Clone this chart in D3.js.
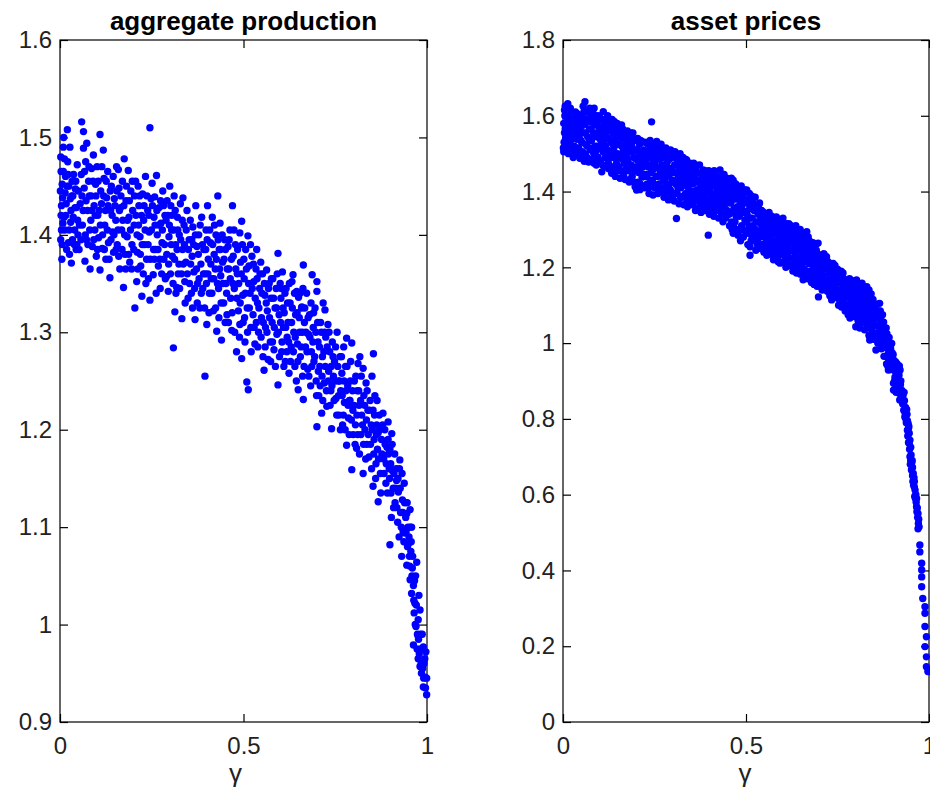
<!DOCTYPE html>
<html><head><meta charset="utf-8">
<script src="https://cdn.jsdelivr.net/npm/d3@7"></script>
<style>body{margin:0;background:#fff}svg{display:block}</style>
</head><body>
<svg id="chart" width="930" height="797"></svg>
<script>
// [gamma, aggregate production]
const production = [
[0.002,1.395],[0.004,1.43],[0.003,1.465],[0.006,1.452],[0.008,1.412],[0.01,1.5],[0.012,1.478],[0.014,1.443],[0.016,1.42],[0.018,1.385],[0.02,1.508],[0.022,1.462],[0.025,1.405],[0.028,1.437],[0.031,1.371],[0.033,1.455],[0.036,1.418],[0.039,1.39],[0.042,1.447],[0.045,1.428],[0.047,1.472],[0.049,1.4],
[0.001,1.445],[0.002,1.48],[0.005,1.375],[0.009,1.49],[0.015,1.46],[0.027,1.49],[0.004,1.405],[0.007,1.438],[0.011,1.418],[0.019,1.45],[0.023,1.392],[0.03,1.425],[0.035,1.44],[0.04,1.405],[0.044,1.385],[0.048,1.415],
[0.052,1.385],[0.055,1.432],[0.058,1.462],[0.059,1.516],[0.061,1.41],[0.064,1.506],[0.064,1.489],[0.066,1.448],[0.068,1.373],[0.07,1.475],[0.072,1.395],[0.073,1.494],[0.075,1.425],[0.078,1.455],[0.08,1.44],[0.082,1.365],[0.084,1.415],[0.086,1.468],[0.088,1.388],[0.091,1.482],[0.093,1.43],[0.095,1.405],[0.097,1.452],[0.099,1.378],
[0.101,1.47],[0.103,1.42],[0.105,1.397],[0.109,1.503],[0.109,1.364],[0.111,1.445],[0.113,1.432],[0.115,1.386],[0.118,1.487],[0.12,1.458],[0.122,1.41],[0.125,1.375],[0.127,1.438],[0.13,1.465],[0.132,1.392],[0.136,1.356],[0.138,1.425],[0.14,1.45],[0.143,1.403],[0.146,1.382],[0.148,1.437],
[0.152,1.415],[0.154,1.47],[0.156,1.39],[0.159,1.467],[0.161,1.448],[0.163,1.365],[0.165,1.428],[0.168,1.405],[0.17,1.455],[0.173,1.346],[0.175,1.478],[0.177,1.38],[0.18,1.435],[0.183,1.398],[0.186,1.466],[0.188,1.418],[0.19,1.372],[0.193,1.445],[0.196,1.39],[0.198,1.425],
[0.202,1.41],[0.204,1.325],[0.206,1.455],[0.209,1.352],[0.211,1.382],[0.213,1.45],[0.215,1.43],[0.218,1.398],[0.22,1.368],[0.223,1.337],[0.225,1.442],[0.228,1.415],[0.23,1.39],[0.233,1.46],[0.236,1.375],[0.239,1.425],[0.241,1.355],[0.243,1.403],[0.245,1.51],[0.245,1.333],[0.248,1.437],
[0.251,1.453],[0.254,1.359],[0.256,1.418],[0.258,1.439],[0.26,1.385],[0.263,1.461],[0.265,1.4],[0.268,1.368],[0.27,1.428],[0.273,1.345],[0.275,1.412],[0.278,1.392],[0.28,1.445],[0.283,1.375],[0.286,1.42],[0.29,1.357],[0.292,1.435],[0.295,1.342],[0.297,1.398],[0.299,1.45],
[0.302,1.43],[0.304,1.405],[0.306,1.378],[0.309,1.284],[0.311,1.44],[0.313,1.321],[0.315,1.39],[0.318,1.346],[0.32,1.418],[0.322,1.36],[0.325,1.4],[0.328,1.432],[0.332,1.314],[0.334,1.385],[0.335,1.438],[0.338,1.41],[0.34,1.352],[0.343,1.372],[0.346,1.425],[0.349,1.335],
[0.352,1.395],[0.355,1.415],[0.358,1.34],[0.36,1.378],[0.362,1.408],[0.365,1.362],[0.368,1.313],[0.37,1.43],[0.373,1.388],[0.375,1.35],[0.378,1.4],[0.381,1.325],[0.384,1.37],[0.386,1.418],[0.389,1.345],[0.392,1.385],[0.395,1.255],[0.396,1.36],[0.398,1.405],[0.4,1.308],
[0.402,1.43],[0.404,1.375],[0.407,1.34],[0.41,1.392],[0.412,1.355],[0.415,1.418],[0.418,1.322],[0.42,1.38],[0.423,1.365],[0.425,1.4],[0.427,1.301],[0.43,1.44],[0.432,1.345],[0.434,1.385],[0.436,1.412],[0.438,1.358],[0.44,1.292],[0.443,1.372],[0.446,1.33],[0.449,1.395],
[0.452,1.35],[0.455,1.318],[0.458,1.388],[0.46,1.365],[0.463,1.405],[0.465,1.335],[0.468,1.302],[0.47,1.43],[0.472,1.378],[0.475,1.345],[0.478,1.39],[0.481,1.28],[0.483,1.36],[0.486,1.322],[0.49,1.308],[0.49,1.402],[0.492,1.372],[0.495,1.273],[0.495,1.414],[0.498,1.338],
[0.502,1.355],[0.504,1.29],[0.506,1.385],[0.509,1.249],[0.51,1.325],[0.512,1.399],[0.513,1.241],[0.515,1.368],[0.518,1.34],[0.52,1.305],[0.523,1.378],[0.526,1.318],[0.528,1.352],[0.531,1.288],[0.534,1.365],[0.536,1.385],[0.538,1.33],[0.541,1.3],[0.544,1.345],[0.547,1.372],[0.549,1.315],
[0.552,1.36],[0.553,1.275],[0.556,1.261],[0.558,1.338],[0.56,1.305],[0.563,1.364],[0.565,1.322],[0.567,1.272],[0.57,1.35],[0.573,1.29],[0.575,1.335],[0.578,1.31],[0.58,1.355],[0.583,1.282],[0.586,1.325],[0.589,1.345],[0.591,1.298],[0.594,1.246],[0.594,1.381],[0.597,1.318],[0.6,1.35],
[0.602,1.335],[0.604,1.28],[0.606,1.362],[0.609,1.305],[0.611,1.32],[0.614,1.27],[0.616,1.345],[0.619,1.295],[0.621,1.31],[0.624,1.258],[0.627,1.33],[0.63,1.285],[0.632,1.352],[0.635,1.359],[0.637,1.3],[0.64,1.265],[0.642,1.318],[0.645,1.342],[0.647,1.288],[0.649,1.241],[0.65,1.336],
[0.653,1.3],[0.655,1.275],[0.658,1.325],[0.659,1.326],[0.661,1.255],[0.663,1.369],[0.663,1.231],[0.666,1.31],[0.669,1.285],[0.672,1.34],[0.675,1.262],[0.677,1.298],[0.68,1.318],[0.683,1.245],[0.685,1.28],[0.687,1.359],[0.69,1.305],[0.692,1.27],[0.695,1.325],[0.698,1.25],[0.7,1.352],[0.7,1.342],[0.7,1.203],
[0.703,1.29],[0.705,1.235],[0.708,1.265],[0.71,1.31],[0.713,1.217],[0.715,1.275],[0.717,1.33],[0.72,1.248],[0.722,1.323],[0.724,1.295],[0.727,1.224],[0.73,1.308],[0.732,1.26],[0.735,1.28],[0.738,1.24],[0.74,1.201],[0.742,1.29],[0.745,1.255],[0.748,1.27],
[0.752,1.232],[0.755,1.3],[0.758,1.25],[0.76,1.215],[0.763,1.275],[0.765,1.24],[0.768,1.258],[0.77,1.205],[0.773,1.285],[0.775,1.228],[0.778,1.265],[0.781,1.294],[0.781,1.184],[0.784,1.245],[0.786,1.212],[0.789,1.23],[0.79,1.23],[0.792,1.27],[0.795,1.289],[0.795,1.159],[0.798,1.22],
[0.802,1.25],[0.805,1.205],[0.808,1.181],[0.81,1.24],[0.812,1.268],[0.815,1.225],[0.817,1.275],[0.82,1.195],[0.822,1.215],[0.826,1.263],[0.826,1.155],[0.828,1.235],[0.831,1.2],[0.834,1.248],[0.836,1.185],[0.839,1.22],[0.842,1.172],[0.845,1.23],[0.848,1.205],[0.85,1.255],
[0.853,1.142],[0.854,1.278],[0.853,1.22],[0.856,1.19],[0.858,1.235],[0.861,1.165],[0.863,1.205],[0.865,1.18],[0.867,1.197],[0.867,1.126],[0.87,1.215],[0.873,1.155],[0.876,1.19],[0.88,1.217],[0.882,1.17],[0.885,1.2],[0.888,1.145],[0.891,1.182],[0.894,1.208],[0.894,1.19],[0.897,1.16],[0.899,1.082],[0.899,1.18],
[0.902,1.135],[0.904,1.196],[0.906,1.158],[0.909,1.12],[0.912,1.175],[0.915,1.14],[0.917,1.148],[0.92,1.105],[0.922,1.136],[0.925,1.16],[0.926,1.169],[0.928,1.115],[0.931,1.07],[0.933,1.128],[0.935,1.095],[0.938,1.145],[0.94,1.094],[0.942,1.11],[0.945,1.114],[0.945,1.061],[0.947,1.08],[0.949,1.083],
[0.952,1.07],[0.954,1.118],[0.954,1.1],[0.954,1.046],[0.957,1.085],[0.958,1.1],[0.958,1.032],[0.96,1.058],[0.963,1.04],[0.963,0.979],[0.965,1.012],[0.967,1.022],[0.969,1.05],[0.97,0.998],[0.972,1.064],[0.974,0.99],[0.976,1.005],[0.976,0.988],[0.976,0.965],[0.978,1.03],[0.981,1.015],[0.981,0.957],[0.983,0.975],[0.985,0.95],[0.987,0.99],[0.99,0.977],[0.99,0.936],[0.992,0.96],[0.995,0.946],[0.997,0.972],[0.999,0.928],[0.999,0.945],
[0.003,1.42],[0.006,1.39],[0.009,1.465],[0.013,1.405],[0.017,1.432],[0.021,1.475],[0.024,1.45],[0.026,1.38],[0.029,1.413],[0.032,1.44],[0.034,1.395],[0.037,1.462],[0.041,1.428],[0.043,1.455],[0.046,1.39],[0.05,1.445],[0.053,1.41],[0.057,1.395],[0.06,1.44],[0.063,1.425],[0.067,1.465],[0.069,1.4],[0.071,1.435],[0.076,1.39],[0.079,1.47],[0.081,1.405],[0.085,1.44],[0.087,1.425],[0.09,1.455],[0.092,1.395],[0.096,1.42],[0.098,1.44],
[0.102,1.385],[0.104,1.455],[0.107,1.425],[0.11,1.41],[0.114,1.47],[0.116,1.4],[0.119,1.44],[0.121,1.385],[0.124,1.425],[0.126,1.455],[0.129,1.405],[0.131,1.43],[0.134,1.375],[0.137,1.445],[0.139,1.395],[0.142,1.42],[0.145,1.46],[0.147,1.4],[0.15,1.43],[0.153,1.385],[0.155,1.445],[0.158,1.405],[0.16,1.378],[0.162,1.425],[0.166,1.44],[0.169,1.385],[0.171,1.415],[0.174,1.43],[0.176,1.4],[0.179,1.365],[0.181,1.45],[0.184,1.415],[0.187,1.38],[0.189,1.435],[0.192,1.405],[0.195,1.365],[0.197,1.455],
[0.201,1.385],[0.203,1.44],[0.207,1.42],[0.21,1.4],[0.212,1.365],[0.214,1.41],[0.217,1.44],[0.219,1.38],[0.222,1.42],[0.224,1.39],[0.227,1.36],[0.229,1.43],[0.232,1.405],[0.234,1.35],[0.237,1.44],[0.24,1.39],[0.242,1.42],[0.246,1.375],[0.249,1.405],[0.252,1.43],[0.255,1.385],[0.257,1.375],[0.259,1.41],[0.262,1.34],[0.264,1.425],[0.267,1.385],[0.269,1.41],[0.272,1.375],[0.274,1.435],[0.277,1.36],[0.279,1.405],[0.282,1.43],[0.285,1.39],[0.287,1.355],[0.289,1.415],[0.291,1.38],[0.294,1.42],[0.296,1.37],[0.298,1.41],
[0.301,1.36],[0.303,1.39],[0.305,1.42],[0.308,1.35],[0.31,1.405],[0.312,1.375],[0.314,1.425],[0.316,1.34],[0.319,1.385],[0.321,1.405],[0.324,1.37],[0.326,1.345],[0.329,1.395],[0.331,1.36],[0.333,1.415],[0.336,1.37],[0.339,1.39],[0.341,1.33],[0.344,1.405],[0.347,1.36],[0.35,1.385],[0.353,1.35],[0.356,1.37],[0.359,1.395],[0.361,1.325],[0.364,1.39],[0.367,1.345],[0.369,1.4],[0.372,1.365],[0.374,1.33],[0.377,1.38],[0.379,1.355],[0.382,1.41],[0.385,1.34],[0.388,1.39],[0.391,1.36],[0.394,1.325],[0.397,1.385],[0.399,1.35],
[0.401,1.395],[0.403,1.36],[0.406,1.32],[0.408,1.405],[0.411,1.37],[0.414,1.34],[0.416,1.39],[0.419,1.355],[0.421,1.41],[0.424,1.325],[0.426,1.375],[0.429,1.35],[0.431,1.395],[0.433,1.315],[0.435,1.365],[0.437,1.385],[0.439,1.33],[0.442,1.4],[0.444,1.35],[0.447,1.375],[0.45,1.31],[0.451,1.385],[0.454,1.34],[0.456,1.365],[0.459,1.31],[0.461,1.395],[0.464,1.355],[0.467,1.375],[0.469,1.32],[0.471,1.35],[0.474,1.405],[0.476,1.3],[0.479,1.365],[0.482,1.335],[0.484,1.385],[0.487,1.35],[0.489,1.295],[0.491,1.33],[0.494,1.36],[0.497,1.39],[0.499,1.31],
[0.501,1.375],[0.503,1.315],[0.505,1.34],[0.508,1.365],[0.511,1.3],[0.514,1.35],[0.516,1.325],[0.519,1.39],[0.521,1.28],[0.524,1.345],[0.527,1.37],[0.529,1.305],[0.532,1.335],[0.535,1.31],[0.537,1.355],[0.539,1.285],[0.542,1.325],[0.545,1.36],[0.548,1.295],[0.55,1.34],[0.554,1.31],[0.557,1.35],[0.559,1.285],[0.562,1.33],[0.564,1.3],[0.568,1.345],[0.571,1.315],[0.574,1.27],[0.576,1.355],[0.579,1.29],[0.582,1.335],[0.584,1.305],[0.587,1.265],[0.59,1.325],[0.592,1.36],[0.595,1.3],[0.598,1.275],
[0.601,1.31],[0.603,1.345],[0.605,1.29],[0.608,1.325],[0.61,1.265],[0.613,1.34],[0.615,1.305],[0.618,1.28],[0.62,1.33],[0.623,1.29],[0.625,1.35],[0.628,1.27],[0.631,1.31],[0.633,1.325],[0.636,1.28],[0.639,1.34],[0.641,1.295],[0.644,1.25],[0.646,1.32],[0.648,1.27],[0.652,1.315],[0.654,1.34],[0.657,1.285],[0.66,1.3],[0.662,1.345],[0.665,1.265],[0.667,1.325],[0.67,1.3],[0.673,1.28],[0.676,1.315],[0.678,1.255],[0.681,1.295],[0.684,1.33],[0.686,1.265],[0.689,1.29],[0.691,1.32],[0.694,1.275],[0.697,1.3],[0.699,1.235],
[0.702,1.31],[0.704,1.26],[0.707,1.285],[0.709,1.245],[0.712,1.3],[0.714,1.255],[0.716,1.23],[0.719,1.28],[0.721,1.3],[0.723,1.265],[0.726,1.24],[0.728,1.285],[0.731,1.25],[0.733,1.3],[0.736,1.225],[0.739,1.265],[0.741,1.245],[0.744,1.275],[0.747,1.23],[0.749,1.25],[0.751,1.285],[0.754,1.215],[0.757,1.265],[0.759,1.235],[0.762,1.25],[0.764,1.2],[0.767,1.275],[0.769,1.235],[0.772,1.215],[0.774,1.25],[0.777,1.2],[0.779,1.24],[0.782,1.265],[0.785,1.225],[0.788,1.195],[0.791,1.25],[0.794,1.21],[0.797,1.24],[0.799,1.195],
[0.801,1.225],[0.804,1.185],[0.806,1.255],[0.809,1.215],[0.811,1.195],[0.814,1.24],[0.816,1.175],[0.819,1.23],[0.821,1.255],[0.824,1.205],[0.827,1.185],[0.83,1.225],[0.833,1.17],[0.835,1.21],[0.837,1.24],[0.84,1.195],[0.843,1.22],[0.846,1.185],[0.849,1.16],[0.851,1.2],[0.855,1.175],[0.857,1.215],[0.86,1.15],[0.862,1.195],[0.864,1.23],[0.868,1.17],[0.871,1.2],[0.874,1.135],[0.877,1.175],[0.879,1.205],[0.883,1.155],[0.886,1.185],[0.889,1.165],[0.892,1.135],[0.895,1.175],[0.898,1.15],
[0.901,1.165],[0.903,1.11],[0.905,1.185],[0.908,1.14],[0.91,1.155],[0.913,1.125],[0.916,1.16],[0.918,1.12],[0.921,1.15],[0.924,1.09],[0.927,1.14],[0.93,1.1],[0.932,1.155],[0.934,1.115],[0.937,1.085],[0.939,1.125],[0.943,1.095],[0.946,1.125],[0.948,1.1],[0.951,1.09],[0.953,1.06],[0.956,1.075],[0.959,1.05],[0.961,1.07],[0.964,1.025],[0.966,1.045],[0.968,1.0],[0.971,1.02],[0.973,0.975],[0.977,0.985],[0.979,0.97],[0.982,0.99],[0.984,0.96],[0.988,0.955],[0.991,0.945],[0.994,0.965],[0.996,0.935]
];

// [gamma, asset price]
const assetPrices = [
[0.002,1.505],[0.003,1.53],[0.004,1.555],[0.002,1.58],[0.005,1.6],[0.006,1.625],[0.008,1.515],[0.009,1.545],[0.01,1.57],[0.012,1.59],[0.013,1.632],[0.015,1.5],[0.016,1.525],[0.018,1.56],[0.019,1.585],[0.021,1.535],[0.022,1.612],[0.024,1.505],[0.024,1.57],
[0.027,1.548],[0.028,1.49],[0.03,1.595],[0.031,1.52],[0.033,1.565],[0.035,1.5],[0.036,1.58],[0.038,1.538],[0.04,1.605],[0.041,1.555],[0.043,1.515],[0.045,1.59],[0.046,1.488],[0.048,1.57],[0.049,1.535],
[0.052,1.6],[0.053,1.505],[0.055,1.625],[0.056,1.555],[0.058,1.48],[0.06,1.637],[0.06,1.578],[0.062,1.525],[0.064,1.61],[0.065,1.49],[0.067,1.545],[0.069,1.59],[0.07,1.478],[0.072,1.565],[0.073,1.62],[0.074,1.51],
[0.076,1.595],[0.078,1.535],[0.079,1.485],[0.081,1.61],[0.083,1.555],[0.084,1.5],[0.086,1.578],[0.088,1.52],[0.09,1.6],[0.091,1.47],[0.093,1.545],[0.095,1.585],[0.096,1.49],[0.098,1.56],[0.099,1.515],
[0.101,1.595],[0.103,1.48],[0.104,1.535],[0.106,1.452],[0.107,1.57],[0.109,1.505],[0.11,1.611],[0.112,1.55],[0.114,1.465],[0.115,1.585],[0.117,1.52],[0.119,1.495],[0.12,1.56],[0.122,1.6],[0.124,1.475],[0.124,1.54],
[0.126,1.505],[0.128,1.575],[0.129,1.46],[0.131,1.53],[0.133,1.448],[0.134,1.59],[0.136,1.555],[0.138,1.49],[0.139,1.515],[0.141,1.57],[0.143,1.44],[0.144,1.54],[0.146,1.475],[0.148,1.58],[0.149,1.5],
[0.151,1.555],[0.153,1.465],[0.154,1.525],[0.156,1.435],[0.158,1.565],[0.159,1.495],[0.16,1.576],[0.162,1.54],[0.164,1.45],[0.165,1.51],[0.167,1.475],[0.169,1.55],[0.17,1.432],[0.172,1.525],[0.174,1.49],
[0.176,1.56],[0.178,1.455],[0.179,1.535],[0.181,1.425],[0.183,1.505],[0.184,1.548],[0.186,1.47],[0.188,1.52],[0.189,1.44],[0.191,1.555],[0.193,1.49],[0.194,1.425],[0.196,1.535],[0.197,1.413],[0.199,1.465],
[0.201,1.404],[0.202,1.51],[0.204,1.54],[0.206,1.45],[0.207,1.48],[0.209,1.525],[0.211,1.42],[0.213,1.495],[0.215,1.532],[0.216,1.438],[0.218,1.465],[0.22,1.51],[0.222,1.41],[0.223,1.53],[0.225,1.475],
[0.227,1.445],[0.228,1.5],[0.23,1.42],[0.232,1.525],[0.233,1.465],[0.235,1.395],[0.237,1.49],[0.238,1.535],[0.24,1.43],[0.242,1.584],[0.242,1.51],[0.244,1.455],[0.246,1.391],[0.247,1.48],[0.249,1.525],[0.25,1.41],
[0.252,1.5],[0.254,1.44],[0.256,1.532],[0.257,1.465],[0.259,1.395],[0.261,1.515],[0.262,1.42],[0.264,1.485],[0.266,1.45],[0.268,1.525],[0.269,1.4],[0.271,1.47],[0.273,1.505],[0.274,1.43],
[0.276,1.385],[0.278,1.495],[0.279,1.455],[0.281,1.515],[0.283,1.415],[0.284,1.475],[0.286,1.5],[0.288,1.378],[0.289,1.44],[0.291,1.485],[0.293,1.405],[0.294,1.51],[0.296,1.46],[0.298,1.39],[0.299,1.43],
[0.301,1.495],[0.303,1.45],[0.304,1.375],[0.306,1.505],[0.308,1.42],[0.31,1.329],[0.31,1.47],[0.312,1.395],[0.313,1.49],[0.315,1.44],[0.317,1.368],[0.318,1.46],[0.32,1.5],[0.322,1.41],[0.323,1.48],[0.325,1.385],
[0.327,1.45],[0.328,1.49],[0.33,1.365],[0.332,1.425],[0.333,1.47],[0.335,1.395],[0.337,1.44],[0.338,1.483],[0.34,1.36],[0.342,1.41],[0.343,1.46],[0.345,1.38],[0.347,1.475],[0.348,1.43],[0.35,1.4],
[0.352,1.455],[0.353,1.365],[0.355,1.42],[0.357,1.475],[0.358,1.385],[0.36,1.44],[0.362,1.35],[0.363,1.465],[0.365,1.356],[0.367,1.405],[0.368,1.45],[0.37,1.375],[0.372,1.43],[0.373,1.47],[0.375,1.395],
[0.377,1.345],[0.378,1.45],[0.38,1.415],[0.382,1.37],[0.383,1.457],[0.385,1.39],[0.387,1.435],[0.388,1.35],[0.39,1.405],[0.392,1.445],[0.393,1.365],[0.395,1.42],[0.397,1.285],[0.397,1.38],[0.398,1.455],[0.4,1.34],
[0.402,1.43],[0.403,1.395],[0.405,1.355],[0.407,1.445],[0.408,1.375],[0.41,1.415],[0.412,1.335],[0.413,1.455],[0.415,1.385],[0.417,1.425],[0.418,1.35],[0.42,1.4],[0.422,1.44],[0.423,1.365],[0.425,1.33],
[0.427,1.415],[0.429,1.457],[0.43,1.375],[0.432,1.43],[0.433,1.34],[0.435,1.395],[0.437,1.32],[0.438,1.445],[0.44,1.36],[0.442,1.41],[0.443,1.385],[0.445,1.33],[0.447,1.435],[0.448,1.35],[0.45,1.4],
[0.452,1.425],[0.453,1.37],[0.455,1.31],[0.457,1.395],[0.458,1.345],[0.46,1.435],[0.462,1.3],[0.463,1.41],[0.465,1.29],[0.465,1.43],[0.467,1.355],[0.468,1.38],[0.47,1.32],[0.472,1.42],[0.473,1.335],[0.475,1.395],
[0.477,1.36],[0.478,1.285],[0.48,1.405],[0.482,1.335],[0.483,1.375],[0.485,1.27],[0.487,1.415],[0.488,1.31],[0.49,1.39],[0.492,1.35],[0.493,1.28],[0.495,1.405],[0.497,1.325],[0.498,1.37],[0.5,1.295],
[0.502,1.404],[0.503,1.34],[0.505,1.26],[0.507,1.38],[0.508,1.31],[0.51,1.355],[0.511,1.254],[0.511,1.232],[0.513,1.39],[0.515,1.285],[0.517,1.33],[0.518,1.37],[0.52,1.27],[0.522,1.35],[0.523,1.3],[0.525,1.385],
[0.527,1.245],[0.528,1.32],[0.53,1.36],[0.532,1.275],[0.533,1.34],[0.535,1.295],[0.537,1.37],[0.538,1.25],[0.54,1.315],[0.542,1.35],[0.543,1.26],[0.545,1.33],[0.546,1.347],[0.547,1.285],[0.549,1.24],
[0.551,1.305],[0.553,1.34],[0.555,1.27],[0.557,1.232],[0.558,1.32],[0.56,1.25],[0.562,1.295],[0.563,1.345],[0.565,1.235],[0.567,1.31],[0.568,1.275],[0.57,1.335],[0.572,1.255],[0.573,1.29],[0.575,1.22],
[0.577,1.32],[0.578,1.265],[0.58,1.23],[0.582,1.3],[0.583,1.333],[0.585,1.245],[0.587,1.28],[0.588,1.215],[0.59,1.31],[0.592,1.255],[0.593,1.211],[0.595,1.29],[0.597,1.325],[0.598,1.235],[0.6,1.27],
[0.601,1.33],[0.603,1.215],[0.604,1.3],[0.606,1.25],[0.608,1.315],[0.609,1.2],[0.611,1.275],[0.613,1.235],[0.614,1.305],[0.616,1.26],[0.618,1.205],[0.619,1.29],[0.621,1.225],[0.623,1.31],[0.624,1.245],
[0.626,1.28],[0.628,1.19],[0.629,1.3],[0.631,1.215],[0.633,1.265],[0.634,1.235],[0.636,1.31],[0.638,1.185],[0.639,1.25],[0.641,1.29],[0.643,1.2],[0.644,1.275],[0.646,1.225],[0.648,1.3],[0.649,1.182],
[0.651,1.26],[0.653,1.21],[0.654,1.285],[0.656,1.167],[0.658,1.24],[0.659,1.195],[0.661,1.275],[0.663,1.18],[0.664,1.225],[0.666,1.294],[0.668,1.255],[0.669,1.17],[0.671,1.21],[0.673,1.27],[0.674,1.24],
[0.676,1.19],[0.678,1.255],[0.679,1.16],[0.681,1.225],[0.683,1.265],[0.684,1.2],[0.686,1.155],[0.688,1.24],[0.689,1.18],[0.691,1.26],[0.693,1.215],[0.694,1.15],[0.696,1.235],[0.697,1.264],[0.698,1.122],[0.699,1.175],
[0.701,1.205],[0.703,1.15],[0.704,1.23],[0.706,1.185],[0.708,1.14],[0.709,1.215],[0.711,1.165],[0.713,1.235],[0.714,1.195],[0.716,1.145],[0.718,1.22],[0.72,1.228],[0.72,1.17],[0.722,1.137],[0.724,1.2],
[0.726,1.16],[0.728,1.21],[0.729,1.125],[0.731,1.185],[0.733,1.14],[0.734,1.114],[0.736,1.2],[0.738,1.155],[0.739,1.175],[0.741,1.13],[0.743,1.205],[0.744,1.145],[0.746,1.19],[0.748,1.12],[0.749,1.165],
[0.751,1.18],[0.753,1.1],[0.754,1.14],[0.756,1.188],[0.757,1.12],[0.759,1.16],[0.761,1.095],[0.762,1.175],[0.764,1.135],[0.766,1.105],[0.767,1.17],[0.769,1.15],[0.771,1.085],[0.772,1.125],[0.774,1.165],
[0.776,1.1],[0.778,1.16],[0.779,1.075],[0.781,1.135],[0.783,1.17],[0.784,1.066],[0.786,1.115],[0.788,1.15],[0.789,1.09],[0.791,1.165],[0.793,1.125],[0.794,1.07],[0.796,1.105],[0.798,1.145],[0.8,1.043],
[0.801,1.085],[0.802,1.167],[0.804,1.13],[0.806,1.06],[0.807,1.15],[0.809,1.1],[0.811,1.04],[0.812,1.14],[0.814,1.075],[0.816,1.12],[0.817,1.158],[0.819,1.055],[0.821,1.095],[0.822,1.135],[0.824,1.035],
[0.826,1.11],[0.828,1.07],[0.83,1.149],[0.831,1.045],[0.833,1.125],[0.835,1.09],[0.836,1.02],[0.838,1.008],[0.838,1.105],[0.84,1.06],[0.842,1.13],[0.843,1.035],[0.845,1.08],[0.847,1.115],[0.848,1.01],[0.85,1.05],
[0.852,1.095],[0.853,1.025],[0.855,0.982],[0.856,1.07],[0.858,1.103],[0.86,1.0],[0.861,1.045],[0.863,1.085],[0.865,1.105],[0.866,1.015],[0.868,1.06],[0.87,0.985],[0.871,1.03],[0.873,1.075],[0.875,1.0],
[0.876,1.055],[0.877,0.965],[0.879,1.02],[0.881,0.99],[0.883,1.04],[0.884,0.945],[0.886,1.005],[0.888,0.97],[0.889,0.929],[0.891,1.015],[0.893,0.95],[0.895,0.985],[0.897,0.93],[0.898,0.999],[0.9,0.955],
[0.902,0.97],[0.903,0.894],[0.903,0.876],[0.905,0.935],[0.907,0.91],[0.909,0.95],[0.91,0.87],[0.912,0.885],[0.914,0.93],[0.915,0.905],[0.917,0.868],[0.919,0.94],[0.92,0.85],[0.921,0.929],[0.922,0.89],[0.924,0.855],
[0.926,0.875],[0.928,0.84],[0.929,0.862],[0.931,0.823],[0.933,0.848],[0.934,0.805],[0.936,0.83],[0.938,0.79],[0.94,0.812],[0.941,0.77],[0.943,0.788],[0.942,0.755],[0.944,0.738],[0.946,0.762],[0.947,0.72],[0.948,0.744],[0.948,0.7],[0.949,0.68],[0.951,0.705],[0.952,0.665],[0.955,0.672],[0.957,0.656],[0.956,0.635],[0.959,0.645],[0.96,0.62],[0.962,0.612],[0.961,0.595],[0.964,0.6],[0.965,0.58],[0.966,0.568],[0.967,0.555],[0.969,0.54],[0.971,0.524],[0.97,0.51],[0.972,0.535],
[0.975,0.467],[0.975,0.449],[0.98,0.419],[0.98,0.401],[0.98,0.383],[0.98,0.357],[0.983,0.326],[0.989,0.304],[0.989,0.287],[0.989,0.252],[0.993,0.225],[0.989,0.199],[0.993,0.172],[0.993,0.146],[0.997,0.133],
[0.001,1.515],[0.004,1.615],[0.007,1.54],[0.011,1.51],[0.014,1.6],[0.017,1.55],[0.02,1.62],[0.023,1.55],[0.006,1.565],[0.018,1.51],[0.012,1.575],
[0.026,1.515],[0.029,1.575],[0.032,1.545],[0.034,1.61],[0.037,1.51],[0.039,1.565],[0.042,1.59],[0.044,1.545],[0.047,1.505],[0.05,1.58],[0.033,1.5],
[0.051,1.53],[0.054,1.575],[0.057,1.61],[0.059,1.5],[0.061,1.555],[0.063,1.59],[0.066,1.52],[0.068,1.61],[0.071,1.54],[0.074,1.585],[0.062,1.495],
[0.077,1.565],[0.08,1.515],[0.082,1.59],[0.085,1.475],[0.087,1.545],[0.089,1.505],[0.092,1.575],[0.094,1.52],[0.097,1.6],[0.1,1.54],[0.085,1.62],
[0.102,1.56],[0.105,1.515],[0.108,1.59],[0.108,1.47],[0.111,1.53],[0.113,1.575],[0.116,1.49],[0.118,1.545],[0.121,1.51],[0.123,1.585],[0.125,1.46],
[0.127,1.54],[0.13,1.49],[0.132,1.56],[0.135,1.465],[0.137,1.525],[0.14,1.585],[0.142,1.5],[0.145,1.56],[0.147,1.455],[0.15,1.525],[0.136,1.58],
[0.152,1.49],[0.155,1.545],[0.157,1.455],[0.16,1.52],[0.163,1.565],[0.166,1.44],[0.168,1.5],[0.171,1.555],[0.173,1.46],[0.175,1.535],[0.163,1.485],
[0.177,1.48],[0.18,1.515],[0.182,1.46],[0.185,1.53],[0.187,1.435],[0.19,1.505],[0.192,1.54],[0.195,1.455],[0.198,1.51],[0.2,1.485],[0.186,1.555],
[0.203,1.465],[0.205,1.425],[0.208,1.5],[0.21,1.455],[0.212,1.535],[0.214,1.475],[0.217,1.415],[0.219,1.49],[0.221,1.445],[0.224,1.505],[0.21,1.405],
[0.226,1.485],[0.229,1.44],[0.231,1.5],[0.234,1.41],[0.236,1.47],[0.239,1.515],[0.241,1.45],[0.243,1.495],[0.245,1.425],[0.248,1.46],[0.233,1.53],
[0.251,1.475],[0.253,1.415],[0.255,1.49],[0.258,1.44],[0.26,1.505],[0.263,1.46],[0.265,1.41],[0.267,1.5],[0.27,1.44],[0.272,1.49],[0.275,1.41],[0.258,1.52],
[0.277,1.43],[0.28,1.47],[0.282,1.395],[0.285,1.445],[0.287,1.485],[0.29,1.42],[0.292,1.46],[0.295,1.4],[0.297,1.49],[0.3,1.45],[0.285,1.51],
[0.302,1.425],[0.305,1.47],[0.307,1.395],[0.309,1.45],[0.311,1.485],[0.314,1.41],[0.316,1.475],[0.319,1.43],[0.321,1.385],[0.324,1.455],[0.3,1.38],
[0.326,1.415],[0.329,1.44],[0.331,1.39],[0.334,1.455],[0.336,1.42],[0.339,1.375],[0.341,1.445],[0.344,1.42],[0.346,1.395],[0.349,1.465],[0.336,1.485],
[0.351,1.38],[0.354,1.445],[0.356,1.4],[0.359,1.46],[0.361,1.375],[0.364,1.425],[0.366,1.385],[0.369,1.43],[0.371,1.4],[0.374,1.36],[0.362,1.47],
[0.376,1.42],[0.379,1.385],[0.381,1.44],[0.384,1.36],[0.386,1.41],[0.389,1.43],[0.391,1.375],[0.394,1.4],[0.396,1.44],[0.399,1.37],[0.388,1.455],
[0.401,1.405],[0.404,1.37],[0.406,1.425],[0.409,1.345],[0.411,1.39],[0.414,1.435],[0.416,1.365],[0.419,1.415],[0.421,1.38],[0.424,1.42],[0.41,1.45],
[0.426,1.385],[0.428,1.35],[0.431,1.405],[0.434,1.365],[0.436,1.42],[0.439,1.38],[0.441,1.34],[0.444,1.42],[0.446,1.37],[0.449,1.42],[0.44,1.445],
[0.451,1.385],[0.454,1.34],[0.456,1.415],[0.459,1.37],[0.461,1.32],[0.464,1.39],[0.466,1.31],[0.469,1.4],[0.471,1.35],[0.474,1.3],[0.46,1.42],
[0.476,1.39],[0.479,1.35],[0.481,1.3],[0.484,1.395],[0.486,1.345],[0.489,1.365],[0.491,1.3],[0.494,1.38],[0.496,1.345],[0.499,1.4],[0.488,1.28],
[0.501,1.32],[0.504,1.37],[0.506,1.29],[0.509,1.395],[0.512,1.33],[0.514,1.27],[0.516,1.36],[0.519,1.31],[0.521,1.385],[0.524,1.285],[0.512,1.3],
[0.526,1.3],[0.529,1.35],[0.531,1.26],[0.534,1.32],[0.536,1.35],[0.539,1.28],[0.541,1.33],[0.544,1.3],[0.546,1.26],[0.548,1.32],[0.535,1.365],
[0.552,1.255],[0.554,1.32],[0.556,1.29],[0.559,1.335],[0.561,1.27],[0.564,1.32],[0.566,1.255],[0.569,1.3],[0.571,1.235],[0.574,1.315],[0.563,1.285],
[0.576,1.29],[0.579,1.245],[0.581,1.31],[0.584,1.27],[0.586,1.225],[0.589,1.3],[0.591,1.32],[0.594,1.25],[0.596,1.275],[0.599,1.305],[0.589,1.235],
[0.602,1.265],[0.605,1.23],[0.607,1.285],[0.61,1.315],[0.612,1.22],[0.615,1.25],[0.617,1.315],[0.62,1.27],[0.622,1.205],[0.625,1.29],[0.612,1.255],
[0.627,1.245],[0.63,1.275],[0.632,1.2],[0.635,1.255],[0.637,1.29],[0.64,1.215],[0.642,1.265],[0.645,1.19],[0.647,1.245],[0.65,1.285],[0.637,1.225],
[0.652,1.23],[0.655,1.27],[0.657,1.195],[0.66,1.255],[0.662,1.215],[0.665,1.245],[0.667,1.19],[0.67,1.28],[0.672,1.185],[0.675,1.225],[0.662,1.29],
[0.677,1.215],[0.68,1.175],[0.682,1.245],[0.685,1.19],[0.687,1.225],[0.69,1.16],[0.692,1.245],[0.695,1.195],[0.697,1.165],[0.7,1.225],[0.686,1.26],
[0.702,1.17],[0.705,1.21],[0.707,1.16],[0.71,1.195],[0.712,1.15],[0.715,1.225],[0.717,1.175],[0.719,1.2],[0.721,1.155],[0.724,1.215],[0.712,1.235],
[0.727,1.185],[0.73,1.145],[0.732,1.2],[0.735,1.165],[0.737,1.13],[0.74,1.19],[0.742,1.155],[0.745,1.175],[0.747,1.135],[0.75,1.195],[0.738,1.21],
[0.752,1.16],[0.755,1.115],[0.757,1.175],[0.76,1.13],[0.763,1.155],[0.765,1.185],[0.768,1.11],[0.77,1.14],[0.773,1.1],[0.775,1.15],[0.76,1.19],
[0.777,1.125],[0.78,1.15],[0.782,1.09],[0.785,1.14],[0.787,1.1],[0.79,1.13],[0.792,1.08],[0.795,1.155],[0.797,1.12],[0.8,1.09],[0.786,1.165],
[0.803,1.115],[0.805,1.145],[0.808,1.075],[0.81,1.125],[0.813,1.09],[0.815,1.15],[0.818,1.105],[0.82,1.07],[0.823,1.12],[0.825,1.085],[0.812,1.05],
[0.827,1.09],[0.829,1.125],[0.832,1.06],[0.834,1.105],[0.837,1.075],[0.839,1.12],[0.841,1.04],[0.844,1.1],[0.846,1.06],[0.849,1.085],[0.836,1.14],
[0.851,1.07],[0.854,1.045],[0.857,1.085],[0.859,1.025],[0.862,1.065],[0.864,1.03],[0.867,1.085],[0.869,1.045],[0.872,1.01],[0.874,1.055],[0.862,1.0],
[0.878,1.035],[0.88,1.005],[0.882,0.965],[0.885,1.025],[0.887,0.985],[0.89,0.955],[0.892,0.99],[0.894,0.97],[0.896,0.95],[0.899,0.975],[0.887,0.94],
[0.901,0.935],[0.904,0.955],[0.906,0.9],[0.908,0.925],[0.911,0.9],[0.913,0.945],[0.916,0.885],[0.918,0.915],[0.92,0.875],[0.923,0.9],[0.911,0.925],
[0.927,0.855],[0.93,0.84],[0.932,0.87],[0.935,0.815],[0.937,0.8],[0.939,0.825],[0.941,0.795],[0.944,0.775],[0.945,0.78],[0.946,0.735],[0.95,0.69],[0.95,0.725],
[0.953,0.685],[0.954,0.69],[0.955,0.65],[0.958,0.625],[0.96,0.635],[0.963,0.59],[0.966,0.59],[0.968,0.565],[0.97,0.55],[0.973,0.515]
];

const gammaTicks = [0, 0.5, 1];
const productionTicks = [0.9, 1, 1.1, 1.2, 1.3, 1.4, 1.5, 1.6];
const assetTicks = [0, 0.2, 0.4, 0.6, 0.8, 1, 1.2, 1.4, 1.6, 1.8];
const titles = ["aggregate production", "asset prices"];
const xLabel = "\u03b3";

const panels = [
  {title: titles[0], data: production, yDomain: [0.9, 1.6], yTicks: productionTicks, left: 60, right: 427, labelShift: -8},
  {title: titles[1], data: assetPrices, yDomain: [0, 1.8], yTicks: assetTicks, left: 563, right: 929, labelShift: -1}
];

const svg = d3.select("#chart");
const plotTop = 40, plotBottom = 722;
const font = "'Liberation Sans', Arial, Helvetica, sans-serif";
const fmt = d => String(+d.toFixed(2));

panels.forEach(p => {
  const x = d3.scaleLinear().domain([0, 1]).range([p.left, p.right]);
  const y = d3.scaleLinear().domain(p.yDomain).range([plotBottom, plotTop]);
  const g = svg.append("g");

  g.append("rect")
    .attr("x", p.left).attr("y", plotTop)
    .attr("width", p.right - p.left).attr("height", plotBottom - plotTop)
    .attr("fill", "none").attr("stroke", "#000").attr("stroke-width", 1.2);

  const style = sel => {
    sel.select(".domain").remove();
    sel.selectAll("line").attr("stroke", "#000").attr("stroke-width", 1.2);
    sel.selectAll("text").attr("font-family", font).attr("font-size", 24).attr("fill", "#222");
  };

  g.append("g").attr("transform", `translate(0,${plotBottom})`)
    .call(d3.axisBottom(x).tickValues(gammaTicks).tickFormat(fmt).tickSize(-8).tickSizeOuter(0).tickPadding(15))
    .call(style);
  g.append("g").attr("transform", `translate(0,${plotTop})`)
    .call(d3.axisTop(x).tickValues(gammaTicks).tickFormat("").tickSize(-8).tickSizeOuter(0))
    .call(style);
  g.append("g").attr("transform", `translate(${p.left},0)`)
    .call(d3.axisLeft(y).tickValues(p.yTicks).tickFormat(fmt).tickSize(-8).tickSizeOuter(0).tickPadding(8))
    .call(style);
  g.append("g").attr("transform", `translate(${p.right},0)`)
    .call(d3.axisRight(y).tickValues(p.yTicks).tickFormat("").tickSize(-8).tickSizeOuter(0))
    .call(style);

  g.append("g").selectAll("circle").data(p.data).join("circle")
    .attr("cx", d => x(d[0])).attr("cy", d => y(d[1]))
    .attr("r", 3.7).attr("fill", "#0000ff");

  g.append("text")
    .attr("x", (p.left + p.right) / 2).attr("y", 30)
    .attr("text-anchor", "middle")
    .attr("font-family", font).attr("font-size", 26).attr("font-weight", "bold")
    .attr("fill", "#000")
    .text(p.title);

  g.append("text")
    .attr("x", x(0.5) + p.labelShift).attr("y", 782)
    .attr("text-anchor", "middle")
    .attr("font-family", font).attr("font-size", 26)
    .attr("fill", "#222")
    .text(xLabel);
});
</script>
</body></html>
